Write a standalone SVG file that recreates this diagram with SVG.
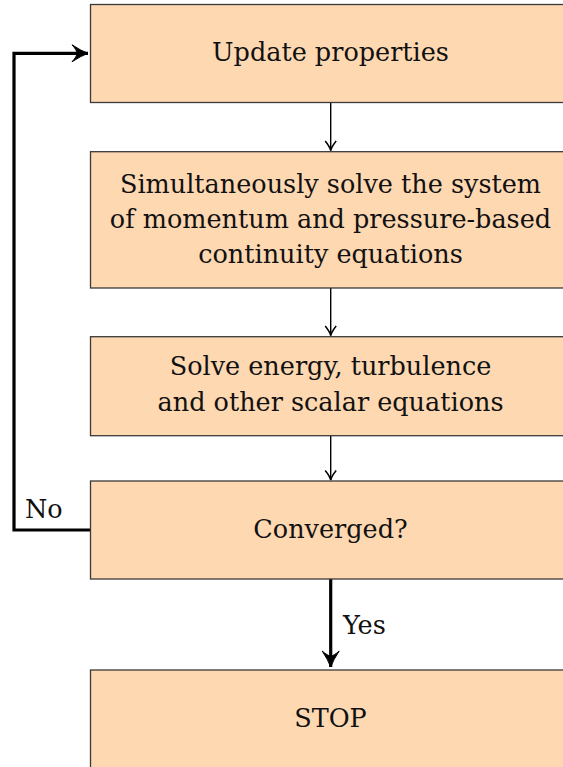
<svg xmlns="http://www.w3.org/2000/svg" width="563" height="767" viewBox="0 0 563 767">
<style>
.box{fill:#FED8B1;stroke:#3a3a3a;stroke-width:1.3}
.t{font-family:"DejaVu Serif","Liberation Serif",serif;font-size:25.5px;fill:#111;text-anchor:middle}
.lbl{font-family:"DejaVu Serif","Liberation Serif",serif;font-size:25.5px;fill:#111}
.thin{fill:none;stroke:#000;stroke-width:1.4}
.thick{fill:none;stroke:#000;stroke-width:3.2}
</style>
<defs>
<marker id="ah" markerUnits="userSpaceOnUse" viewBox="-11 -7 13 14" refX="0" refY="0" markerWidth="13" markerHeight="14" orient="auto">
<path d="M-9.5,-5.5 Q-4,-1 0,0 Q-4,1 -9.5,5.5" fill="none" stroke="#000" stroke-width="1.5"/>
</marker>
<marker id="ahb" markerUnits="userSpaceOnUse" viewBox="-18 -10 20 20" refX="0" refY="0" markerWidth="20" markerHeight="20" orient="auto">
<path d="M-16,-8.5 Q-7,-2.5 0,0 Q-7,2.5 -16,8.5 Q-11,3 -11,0 Q-11,-3 -16,-8.5 Z" fill="#000" stroke="#000" stroke-width="1"/>
</marker>
</defs>
<g id="connectors">
<path class="thin" d="M330.7,102.5 V150.5" marker-end="url(#ah)"/>
<path class="thin" d="M330.7,288 V335.5" marker-end="url(#ah)"/>
<path class="thin" d="M330.7,435.7 V480" marker-end="url(#ah)"/>
<path class="thick" d="M330.7,579 V667" marker-end="url(#ahb)"/>
<path class="thick" d="M90,530 H14 V53.3 H88" marker-end="url(#ahb)"/>
<text class="lbl" x="25" y="518">No</text>
<text class="lbl" x="343" y="634">Yes</text>
</g>
<g id="n1">
<rect class="box" x="90.5" y="4.5" width="480" height="98"/>
<text class="t" x="330.5" y="61">Update properties</text>
</g>
<g id="n2">
<rect class="box" x="90.5" y="151.7" width="480" height="136.3"/>
<text class="t" x="330.5" y="193">Simultaneously solve the system</text>
<text class="t" x="330.5" y="228">of momentum and pressure-based</text>
<text class="t" x="330.5" y="263">continuity equations</text>
</g>
<g id="n3">
<rect class="box" x="90.5" y="336.7" width="480" height="99"/>
<text class="t" x="330.5" y="375">Solve energy, turbulence</text>
<text class="t" x="330.5" y="411">and other scalar equations</text>
</g>
<g id="n4">
<rect class="box" x="90.5" y="481" width="480" height="98"/>
<text class="t" x="330.5" y="538">Converged?</text>
</g>
<g id="n5">
<rect class="box" x="90.5" y="670" width="480" height="110"/>
<text class="t" x="330.5" y="727">STOP</text>
</g>
</svg>
